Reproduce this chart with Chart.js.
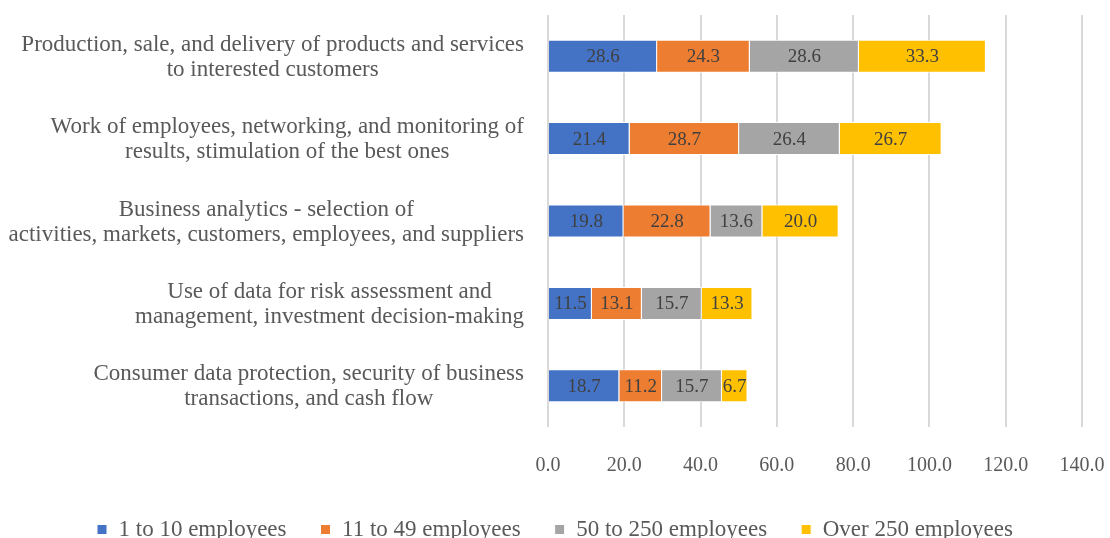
<!DOCTYPE html>
<html>
<head>
<meta charset="utf-8">
<script src="https://cdn.jsdelivr.net/npm/chart.js@4/dist/chart.umd.min.js"></script>
<style>
  html, body { margin: 0; padding: 0; background: #fff; }
  #wrap { width: 1110px; height: 538px; }
</style>
</head>
<body>
<div id="wrap"><canvas id="chart"></canvas></div>
<script>
const categories = [
    ['Production, sale, and delivery of products and services', 'to interested customers'],
    ['Work of employees, networking, and monitoring of', 'results, stimulation of the best ones'],
    ['Business analytics - selection of', 'activities, markets, customers, employees, and suppliers'],
    ['Use of data for risk assessment and', 'management, investment decision-making'],
    ['Consumer data protection, security of business', 'transactions, and cash flow']
];

const seriesNames = ['1 to 10 employees', '11 to 49 employees', '50 to 250 employees', 'Over 250 employees'];
const small = [28.6, 21.4, 19.8, 11.5, 18.7];
const lowMid = [24.3, 28.7, 22.8, 13.1, 11.2];
const highMid = [28.6, 26.4, 13.6, 15.7, 15.7];
const large = [33.3, 26.7, 20.0, 13.3, 6.7];
const colors = ['#4472C4', '#ED7D31', '#A5A5A5', '#FFC000'];

const xTicks = [0, 20, 40, 60, 80, 100, 120, 140];

const FONT = "'Liberation Serif', 'DejaVu Serif', serif";
const TEXT = '#595959';

// values written in the middle of each segment
const valueLabels = {
    id: 'valueLabels',
    afterDatasetsDraw(chart) {
        const ctx = chart.ctx;
        ctx.save();
        ctx.font = '19px ' + FONT;
        ctx.fillStyle = '#404040';
        ctx.textAlign = 'center';
        ctx.textBaseline = 'middle';
        chart.data.datasets.forEach((ds, i) => {
            chart.getDatasetMeta(i).data.forEach((bar, j) => {
                const cx = (bar.x + bar.base) / 2;
                ctx.fillText(ds.data[j].toFixed(1), cx, bar.y + 1);
            });
        });
        ctx.restore();
    }
};

// category names: lines centred inside a block whose right edge sits next to the axis
const categoryLabels = {
    id: 'categoryLabels',
    afterDraw(chart) {
        const ctx = chart.ctx;
        const y = chart.scales.y;
        const right = chart.chartArea.left - 24;
        const lh = 25;
        ctx.save();
        ctx.font = '23px ' + FONT;
        ctx.fillStyle = TEXT;
        ctx.textAlign = 'center';
        ctx.textBaseline = 'middle';
        categories.forEach((lines, i) => {
            const cy = y.getPixelForTick(i) + 1;
            const w = Math.max(...lines.map(l => ctx.measureText(l).width));
            const cx = right - w / 2;
            lines.forEach((l, k) => {
                ctx.fillText(l, cx, cy + (k - (lines.length - 1) / 2) * lh);
            });
        });
        ctx.restore();
    }
};

const datasets = [small, lowMid, highMid, large].map((d, i) => ({
    label: seriesNames[i],
    data: d,
    backgroundColor: colors[i],
    borderColor: '#ffffff',
    borderWidth: 1,
    categoryPercentage: 0.5,
    barPercentage: 0.8
}));

new Chart(document.getElementById('chart'), {
    type: 'bar',
    data: { labels: categories.map(c => c.join(' ')), datasets },
    options: {
        indexAxis: 'y',
        responsive: true,
        maintainAspectRatio: false,
        animation: false,
        layout: { padding: { top: 15, right: 0, bottom: -13, left: 0 } },
        scales: {
            x: {
                stacked: true,
                min: 0,
                max: 140,
                afterBuildTicks: s => { s.ticks = xTicks.map(v => ({ value: v })); },
                afterFit: s => {
                    s.height = 57;
                    s.paddingLeft = 0;
                    s.paddingRight = 28;
                },
                grid: { color: '#d9d9d9', lineWidth: 2, drawTicks: false },
                border: { display: false },
                ticks: {
                    padding: 27,
                    color: TEXT,
                    font: { family: FONT, size: 20 },
                    callback: v => Number(v).toFixed(1)
                }
            },
            y: {
                stacked: true,
                grid: { display: false },
                border: { display: false },
                ticks: { display: false },
                afterFit: s => { s.width = 548; }
            }
        },
        plugins: {
            legend: {
                position: 'bottom',
                labels: {
                    color: TEXT,
                    font: { family: FONT, size: 23 },
                    boxWidth: 10,
                    boxHeight: 10,
                    padding: 34
                }
            },
            tooltip: { enabled: false }
        }
    },
    plugins: [valueLabels, categoryLabels]
});
</script>
</body>
</html>
